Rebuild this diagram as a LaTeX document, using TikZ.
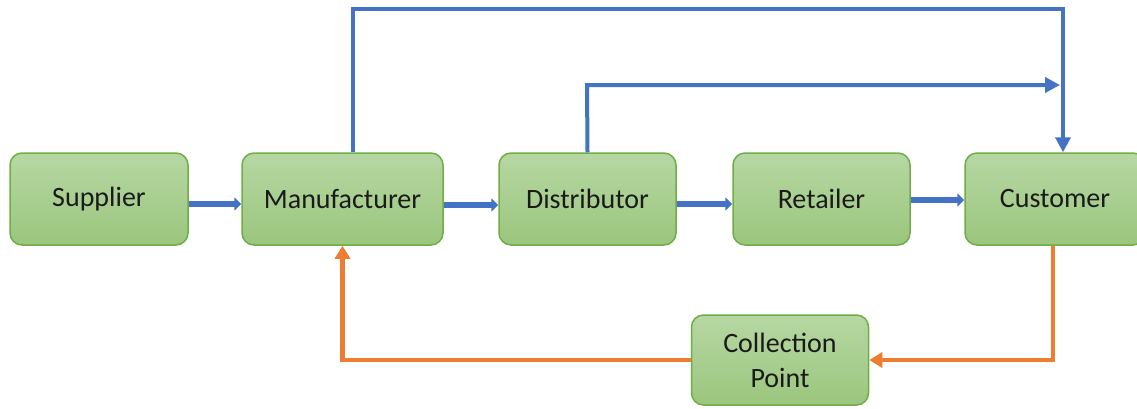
\documentclass[tikz,border=0pt]{standalone}
\usepackage{fontspec}
\setmainfont{Carlito}
\usetikzlibrary{arrows.meta}
\definecolor{boxline}{HTML}{70AD47}
\definecolor{boxtop}{HTML}{B6D7A3}
\definecolor{boxbot}{HTML}{9BC67D}
\definecolor{flowblue}{HTML}{4472C4}
\definecolor{flowor}{HTML}{ED7D31}
\definecolor{txt}{HTML}{1A1A1A}
\tikzset{
  stage/.style={draw=boxline, line width=1.5pt, rounded corners=12pt, top color=boxtop, bottom color=boxbot,
    minimum height=92pt, inner sep=0pt, align=center, text=txt, font=\fontsize{28}{35}\selectfont},
  shortflow/.style={draw=flowblue, line width=6pt, -{Triangle[length=7pt,width=13pt]}},
  longflow/.style={draw=flowblue, line width=4pt, -{Triangle[length=15pt,width=15pt]}},
  backflow/.style={draw=flowor, line width=4.5pt, -{Triangle[length=13pt,width=15pt]}}
}
\begin{document}
\begin{tikzpicture}[x=1pt,y=-1pt]
\useasboundingbox (0,0) rectangle (1137,408);
\node[stage, minimum width=178pt] (sup) at (99,199) {Supplier};
\node[stage, minimum width=201pt] (man) at (342.5,199) {Manufacturer};
\node[stage, minimum width=177pt] (dis) at (587.5,199) {Distributor};
\node[stage, minimum width=177pt] (ret) at (821.5,199) {Retailer};
\node[stage, minimum width=180pt] (cus) at (1055,199) {Customer};
\node[stage, minimum width=177pt, minimum height=90pt] (col) at (780,360) {Collection\\Point};
\coordinate (midend) at (1060,85);
\draw[shortflow] ([yshift=-5pt]sup.east) -- ([yshift=-5pt]man.west);
\draw[shortflow] ([yshift=-6pt]man.east) -- ([yshift=-6pt]dis.west);
\draw[shortflow] ([yshift=-5pt]dis.east) -- ([yshift=-5pt]ret.west);
\draw[shortflow] ([yshift=-1pt]ret.east) -- ([yshift=-1pt]cus.west);
\draw[longflow] ([xshift=10.5pt]man.north) -- ++(0,-143) -| ([xshift=8pt]cus.north);
\draw[longflow] (dis.north) -- (587,85) -- (midend);
\draw[backflow] ([xshift=-2pt]cus.south) |- (col.east);
\draw[backflow] (col.west) -| (man.south);
\end{tikzpicture}
\end{document}
